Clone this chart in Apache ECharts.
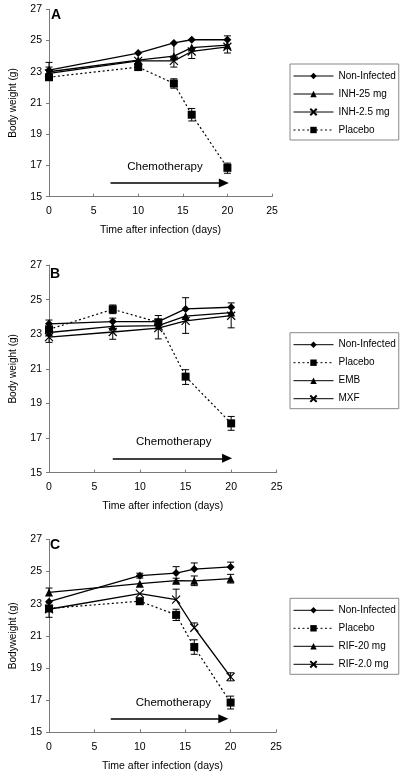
<!DOCTYPE html>
<html><head><meta charset="utf-8">
<script src="https://cdn.jsdelivr.net/npm/echarts@6/dist/echarts.min.js"></script>
<style>html,body{margin:0;padding:0;background:#fff}#c{width:405px;height:773px}</style>
</head><body><div id="c"></div>
<script>
// ---------- data ----------
const panelLabels = ['A', 'B', 'C'];
const xAxisTitle = 'Time after infection (days)';
const yAxisTitles = ['Body weight (g)', 'Body weight (g)', 'Bodyweight (g)'];
const annotationText = 'Chemotherapy';

// Panel A
const daysA = [0, 10, 14, 16, 20];
const nonInfA = [23.1, 24.2, 24.85, 25.05, 25.05];
const nonInfA_up = [0.5, 0, 0, 0, 0.25];
const nonInfA_dn = [0, 0, 0.85, 0, 0];
const inh25A = [23.0, 23.75, 24.0, 24.55, 24.7];
const inh25A_up = [0.3, 0, 0, 0, 0];
const inh25A_dn = [0, 0, 0, 0, 0];
const inh2p5A = [22.9, 23.7, 23.7, 24.3, 24.6];
const inh2p5A_up = [0, 0, 0, 0, 0];
const inh2p5A_dn = [0, 0, 0.4, 0.45, 0.4];
const placeboA = [22.65, 23.3, 22.25, 20.25, 16.85];
const placeboA_up = [0.15, 0.15, 0.3, 0.4, 0.3];
const placeboA_dn = [0.15, 0.2, 0.3, 0.4, 0.35];

// Panel B
const daysB = [0, 7, 12, 15, 20];
const nonInfB = [23.6, 23.73, 23.73, 24.46, 24.56];
const nonInfB_up = [0.22, 0.2, 0.35, 0.65, 0.25];
const nonInfB_dn = [0, 0, 0, 0, 0];
const placeboB = [23.28, 24.44, 23.69, 20.55, 17.85];
const placeboB_up = [0.15, 0.25, 0.15, 0.4, 0.4];
const placeboB_dn = [0.15, 0.25, 0.15, 0.45, 0.4];
const embB = [23.1, 23.45, 23.5, 24.05, 24.25];
const embB_up = [0, 0, 0, 0, 0];
const embB_dn = [0, 0, 0, 0, 0];
const mxfB = [22.83, 23.13, 23.35, 23.77, 24.07];
const mxfB_up = [0, 0, 0, 0, 0];
const mxfB_dn = [0.3, 0.42, 0.62, 0.72, 0.7];

// Panel C
const daysC = [0, 10, 14, 16, 20];
const nonInfC = [23.12, 24.74, 24.9, 25.15, 25.28];
const nonInfC_up = [0, 0.15, 0.4, 0.38, 0.3];
const nonInfC_dn = [0, 0.15, 0, 0, 0];
const placeboC = [22.7, 23.15, 22.3, 20.3, 16.85];
const placeboC_up = [0, 0.1, 0.35, 0.45, 0.4];
const placeboC_dn = [0, 0.1, 0.35, 0.45, 0.4];
const rif20C = [23.7, 24.24, 24.43, 24.42, 24.55];
const rif20C_up = [0.27, 0, 0.15, 0.3, 0.27];
const rif20C_dn = [0, 0, 0.15, 0.3, 0.27];
const rif2C = [22.65, 23.62, 23.25, 21.5, 18.45];
const rif2C_up = [0, 0, 0.65, 0.3, 0.25];
const rif2C_dn = [0.5, 0, 0, 0, 0.25];

// Chemotherapy arrows [startDay, endDay, level] and text [day, level]
const arrowA = [6.9, 19.6, 15.88], textA = [13.0, 16.94];
const arrowB = [7.0, 19.55, 15.83], textB = [13.7, 16.78];
const arrowC = [6.8, 19.2, 15.84], textC = [13.7, 16.83];

// ---------- styles ----------
const FONT = 'Liberation Sans, Arial, sans-serif';
const X_PATH = 'path://M0,0L10,10M10,0L0,10';
const styles = {
  diamond: {symbol: 'diamond', symbolSize: 8, itemStyle: {color: '#000'}, lineStyle: {color: '#000', width: 1.3, type: 'solid'}},
  triangle: {symbol: 'triangle', symbolSize: 8, itemStyle: {color: '#000'}, lineStyle: {color: '#000', width: 1.3, type: 'solid'}},
  square: {symbol: 'rect', symbolSize: 8, itemStyle: {color: '#000'}, lineStyle: {color: '#000', width: 1.2, type: [2, 2.5]}},
  cross: {symbol: X_PATH, symbolSize: 8, symbolKeepAspect: true, itemStyle: {color: 'rgba(0,0,0,0)', borderColor: '#000', borderWidth: 1.2}, lineStyle: {color: '#000', width: 1.3, type: 'solid'}}
};

function lineSeries(name, days, vals, idx, st, extra) {
  return Object.assign({
    type: 'line', name: name, xAxisIndex: idx, yAxisIndex: idx,
    data: days.map((d, i) => [d, vals[i]]), z: 4, animation: false
  }, JSON.parse(JSON.stringify(st)), extra || {});
}

function errSeries(days, vals, up, dn, idx) {
  const data = [];
  days.forEach((d, i) => {
    if (up[i] > 0 || dn[i] > 0) data.push([d, vals[i], vals[i] - dn[i], vals[i] + up[i]]);
  });
  return {
    type: 'custom', xAxisIndex: idx, yAxisIndex: idx, z: 3, silent: true, animation: false,
    data: data,
    renderItem: function (params, api) {
      const x = api.value(0), v = api.value(1), lo = api.value(2), hi = api.value(3);
      const pLo = api.coord([x, lo]), pHi = api.coord([x, hi]);
      const w = 3.5, st = {stroke: '#000', lineWidth: 1};
      const ch = [{type: 'line', shape: {x1: pLo[0], y1: pLo[1], x2: pHi[0], y2: pHi[1]}, style: st}];
      if (hi > v) ch.push({type: 'line', shape: {x1: pHi[0] - w, y1: pHi[1], x2: pHi[0] + w, y2: pHi[1]}, style: st});
      if (lo < v) ch.push({type: 'line', shape: {x1: pLo[0] - w, y1: pLo[1], x2: pLo[0] + w, y2: pLo[1]}, style: st});
      return {type: 'group', children: ch};
    }
  };
}

function chemo(arrow, text) {
  return {
    markLine: {
      silent: true, symbol: ['none', 'triangle'], symbolSize: [9, 10],
      lineStyle: {color: '#000', width: 1.5, type: 'solid'}, label: {show: false},
      emphasis: {disabled: true},
      data: [[{coord: [arrow[0], arrow[2]]}, {coord: [arrow[1], arrow[2]]}]]
    },
    markPoint: {
      silent: true, symbol: 'circle', symbolSize: 1, itemStyle: {color: 'rgba(0,0,0,0)'},
      label: {show: true, position: 'inside', formatter: annotationText, color: '#000', fontSize: 11.5, fontFamily: FONT},
      data: [{coord: text}]
    }
  };
}

const grids = [
  {left: 39, top: 9.3, width: 233, height: 187.4},
  {left: 39.3, top: 265, width: 237.4, height: 207.7},
  {left: 42.3, top: 539.3, width: 233.7, height: 193}
];

const xAxes = grids.map((g, i) => ({
  gridIndex: i, type: 'value', min: 0, max: 25, interval: 5,
  axisLine: {onZero: false, lineStyle: {color: '#7a7a7a', width: 1}},
  axisTick: {inside: true, length: 3, lineStyle: {color: '#7a7a7a'}},
  axisLabel: {color: '#000', fontSize: 10.5, fontFamily: FONT, margin: 9},
  splitLine: {show: false},
  name: xAxisTitle, nameLocation: 'middle', nameGap: 28,
  nameTextStyle: {color: '#000', fontSize: 10.5, fontFamily: FONT}
}));
const yAxes = grids.map((g, i) => ({
  gridIndex: i, type: 'value', min: 15, max: 27, interval: 2,
  axisLine: {show: true, lineStyle: {color: '#7a7a7a', width: 1}},
  axisTick: {show: true, length: 3, lineStyle: {color: '#7a7a7a'}},
  axisLabel: {color: '#000', fontSize: 10.5, fontFamily: FONT, margin: 7},
  splitLine: {show: false},
  name: yAxisTitles[i], nameLocation: 'middle', nameGap: 31,
  nameTextStyle: {color: '#000', fontSize: 10, fontFamily: FONT}
}));

const legendBase = {
  orient: 'vertical', left: 290, itemWidth: 40, itemHeight: 8, itemGap: 8,
  padding: [7, 3, 5, 3], borderColor: '#888', borderWidth: 1,
  textStyle: {color: '#000', fontSize: 10, fontFamily: FONT},
  lineStyle: {width: 1},
  selectedMode: false
};
const legends = [
  Object.assign({}, legendBase, {top: 64, data: ['Non-Infected', 'INH-25 mg', 'INH-2.5 mg', 'Placebo']}),
  Object.assign({}, legendBase, {top: 332.7, data: ['Non-Infected', 'Placebo', 'EMB', 'MXF']}),
  Object.assign({}, legendBase, {top: 598.3, data: ['Non-Infected', 'Placebo', 'RIF-20 mg', 'RIF-2.0 mg']})
];

const titles = [
  {text: panelLabels[0], left: 51, top: 8.5},
  {text: panelLabels[1], left: 50, top: 267.5},
  {text: panelLabels[2], left: 50, top: 538.5}
].map(t => Object.assign(t, {padding: 0, textStyle: {color: '#000', fontSize: 14, fontWeight: 'bold', fontFamily: FONT}}));

const series = [
  // A
  errSeries(daysA, nonInfA, nonInfA_up, nonInfA_dn, 0),
  errSeries(daysA, inh25A, inh25A_up, inh25A_dn, 0),
  errSeries(daysA, inh2p5A, inh2p5A_up, inh2p5A_dn, 0),
  errSeries(daysA, placeboA, placeboA_up, placeboA_dn, 0),
  lineSeries('Non-Infected', daysA, nonInfA, 0, styles.diamond),
  lineSeries('INH-25 mg', daysA, inh25A, 0, styles.triangle),
  lineSeries('INH-2.5 mg', daysA, inh2p5A, 0, styles.cross),
  lineSeries('Placebo', daysA, placeboA, 0, styles.square, chemo(arrowA, textA)),
  // B
  errSeries(daysB, nonInfB, nonInfB_up, nonInfB_dn, 1),
  errSeries(daysB, placeboB, placeboB_up, placeboB_dn, 1),
  errSeries(daysB, embB, embB_up, embB_dn, 1),
  errSeries(daysB, mxfB, mxfB_up, mxfB_dn, 1),
  lineSeries('Non-Infected', daysB, nonInfB, 1, styles.diamond),
  lineSeries('Placebo', daysB, placeboB, 1, styles.square, chemo(arrowB, textB)),
  lineSeries('EMB', daysB, embB, 1, styles.triangle),
  lineSeries('MXF', daysB, mxfB, 1, styles.cross),
  // C
  errSeries(daysC, nonInfC, nonInfC_up, nonInfC_dn, 2),
  errSeries(daysC, placeboC, placeboC_up, placeboC_dn, 2),
  errSeries(daysC, rif20C, rif20C_up, rif20C_dn, 2),
  errSeries(daysC, rif2C, rif2C_up, rif2C_dn, 2),
  lineSeries('Non-Infected', daysC, nonInfC, 2, styles.diamond),
  lineSeries('Placebo', daysC, placeboC, 2, styles.square, chemo(arrowC, textC)),
  lineSeries('RIF-20 mg', daysC, rif20C, 2, styles.triangle),
  lineSeries('RIF-2.0 mg', daysC, rif2C, 2, styles.cross)
];

const chart = echarts.init(document.getElementById('c'), null, {renderer: 'canvas'});
chart.setOption({
  backgroundColor: '#fff',
  animation: false,
  textStyle: {fontFamily: FONT},
  title: titles,
  legend: legends,
  grid: grids,
  xAxis: xAxes,
  yAxis: yAxes,
  series: series
});
</script>
</body></html>
